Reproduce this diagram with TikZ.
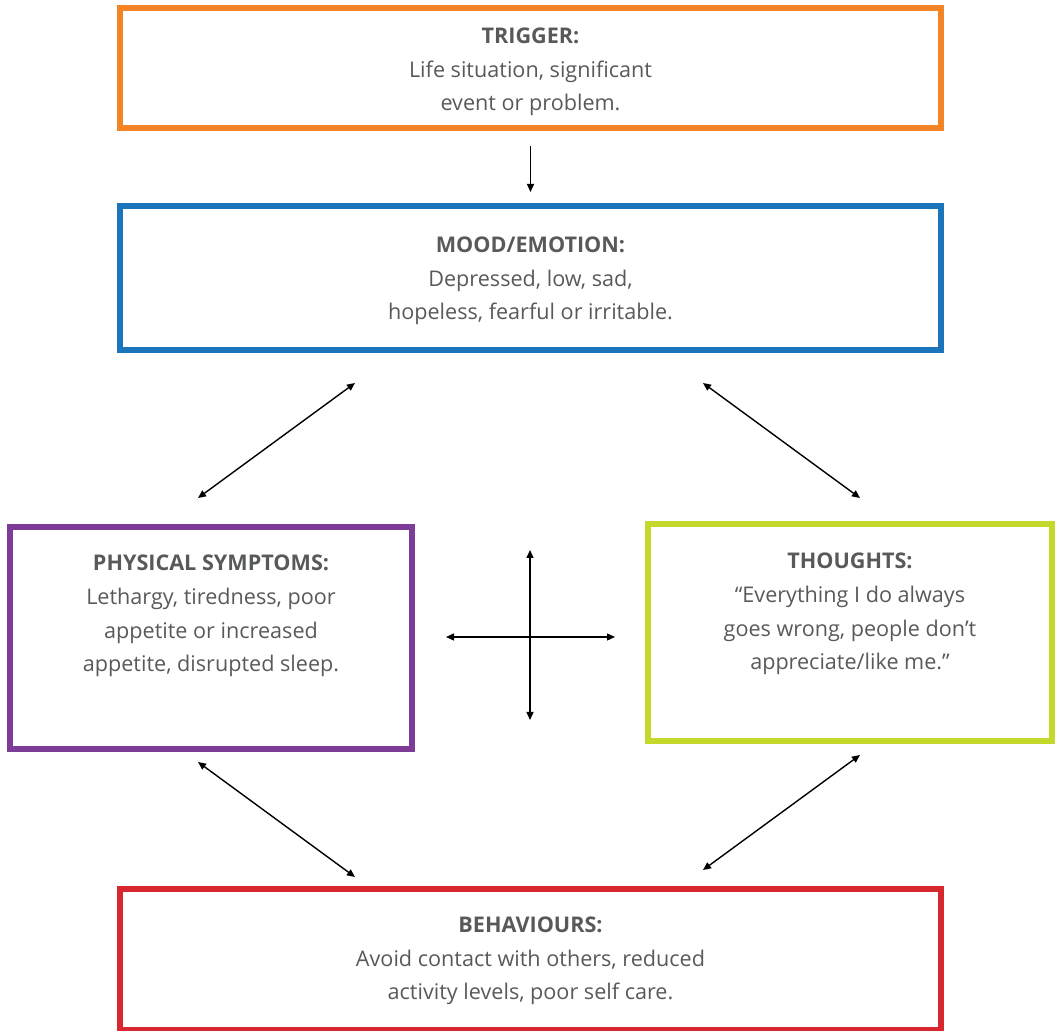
\documentclass[tikz,border=0pt]{standalone}
\usepackage{fontspec}
\setmainfont{Open Sans}
\usepackage{xcolor}
\usetikzlibrary{arrows.meta}

\definecolor{trigorange}{HTML}{F58426}
\definecolor{moodblue}{HTML}{1B75BB}
\definecolor{physpurple}{HTML}{7D3C98}
\definecolor{thoughtlime}{HTML}{C5D92D}
\definecolor{behavred}{HTML}{D7282F}
\definecolor{txtgray}{HTML}{58595B}

\begin{document}
\begin{tikzpicture}[x=0.5pt,y=-0.5pt,
box/.style={draw,line width=3pt,inner sep=0pt},
txt/.style={align=center,text=txtgray,font=\fontsize{10.8}{16.8}\selectfont},
tip/.style={-{Triangle[length=4pt,width=3.5pt]},line width=0.7pt},
biarrow/.style={{Triangle[length=4pt,width=3.5pt]}-{Triangle[length=4pt,width=3.5pt]},line width=0.7pt}]
\useasboundingbox (0,0) rectangle (1057,1031);

\node[box,draw=trigorange,minimum width=410.5pt,minimum height=60pt] (trigger) at (530.5,68) {};
\node[txt] (triggerText) at (530.5,72)
{\textbf{TRIGGER:}\\Life situation, significant\\event or problem.};
\node[box,draw=moodblue,minimum width=410.5pt,minimum height=72pt] (mood) at (530.5,278) {};
\node[txt] (moodText) at (530.5,281)
{\textbf{MOOD/EMOTION:}\\Depressed, low, sad,\\hopeless, fearful or irritable.};
\node[box,draw=physpurple,minimum width=201pt,minimum height=111pt] (phys) at (211,638) {};
\node[txt] (physText) at (211,616)
{\textbf{PHYSICAL SYMPTOMS:}\\Lethargy, tiredness, poor\\appetite or increased\\appetite, disrupted sleep.};
\node[box,draw=thoughtlime,minimum width=202pt,minimum height=108.5pt] (thought) at (850,632.5) {};
\node[txt] (thoughtText) at (850,614)
{\textbf{THOUGHTS:}\\“Everything I do always\\goes wrong, people don’t\\appreciate/like me.”};
\node[box,draw=behavred,minimum width=410.5pt,minimum height=70.5pt] (behav) at (530.5,959.5) {};
\node[txt] (behavText) at (530.5,961)
{\textbf{BEHAVIOURS:}\\Avoid contact with others, reduced\\activity levels, poor self care.};

\coordinate (mpA) at (355,383);
\coordinate (mpB) at (198,498);
\coordinate (mtA) at (703,383);
\coordinate (mtB) at (860,498);
\coordinate (pbA) at (198,762);
\coordinate (pbB) at (355,877);
\coordinate (tbA) at (860,755);
\coordinate (tbB) at (703,870);
\coordinate (crossN) at (530,550);
\coordinate (crossS) at (530,720);
\coordinate (crossW) at (446,637);
\coordinate (crossE) at (615,637);

\draw[tip] ([yshift=-7.5pt]trigger.south) -- ([yshift=5.5pt]mood.north);
\draw[biarrow] (mpA) -- (mpB);
\draw[biarrow] (mtA) -- (mtB);
\draw[biarrow] (pbA) -- (pbB);
\draw[biarrow] (tbA) -- (tbB);
\draw[biarrow] (crossN) -- (crossS);
\draw[biarrow] (crossW) -- (crossE);
\end{tikzpicture}
\end{document}
